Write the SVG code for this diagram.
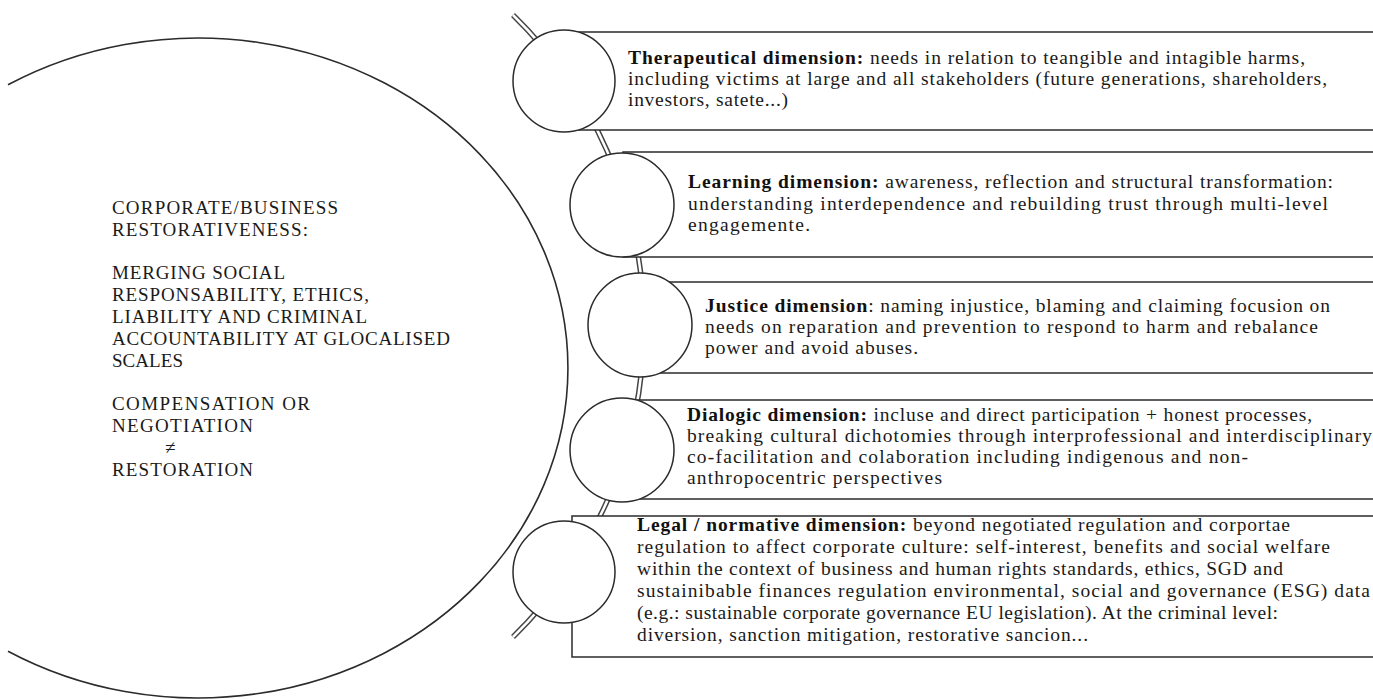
<svg xmlns="http://www.w3.org/2000/svg" width="1373" height="699" viewBox="0 0 1373 699">
<style>
.t{font-family:"Liberation Serif","Times New Roman",serif;font-size:19.5px;fill:#1a1a1a}
.l{font-family:"Liberation Serif","Times New Roman",serif;font-size:19px;fill:#1a1a1a}
.b{font-weight:bold;fill:#111}
.box{fill:#fff;stroke:#2b2b2b;stroke-width:1.5}
.dot{fill:#fff;stroke:#2b2b2b;stroke-width:1.5}
.big{fill:none;stroke:#2b2b2b;stroke-width:1.6}
.spo{fill:none;stroke:#444;stroke-width:5.5}
.spi{fill:none;stroke:#fff;stroke-width:2.5}
</style>
<defs>
<path id="spine" d="M 513 15 A 435 435 0 0 1 513 637"/>
</defs>
<rect width="1373" height="699" fill="#fff"/>

<g id="core">
<path class="big" d="M 8 84.8 A 370 330 0 1 1 8 651.2"/>
<text class="l" x="112" y="214" textLength="226">CORPORATE/BUSINESS</text>
<text class="l" x="112" y="235.8" textLength="196">RESTORATIVENESS:</text>
<text class="l" x="112" y="279.4" textLength="173">MERGING SOCIAL</text>
<text class="l" x="112" y="301.2" textLength="257">RESPONSABILITY, ETHICS,</text>
<text class="l" x="112" y="323" textLength="255">LIABILITY AND CRIMINAL</text>
<text class="l" x="112" y="344.8" textLength="338">ACCOUNTABILITY AT GLOCALISED</text>
<text class="l" x="112" y="366.6" textLength="71">SCALES</text>
<text class="l" x="112" y="410.2" textLength="198">COMPENSATION OR</text>
<text class="l" x="112" y="432" textLength="141">NEGOTIATION</text>
<text class="l" x="165" y="453.8">≠</text>
<text class="l" x="112" y="475.6" textLength="141">RESTORATION</text>
</g>

<g id="connectors">
<use href="#spine" class="spo"/>
<use href="#spine" class="spi"/>
</g>

<g id="dim-therapeutical">
<rect class="box" x="575" y="32" width="820" height="98"/>
<circle class="dot" cx="564" cy="81" r="51"/>
<text class="t" x="628" y="64" textLength="677"><tspan class="b">Therapeutical dimension:</tspan> needs in relation to teangible and intagible harms,</text>
<text class="t" x="628" y="85" textLength="699">including victims at large and all stakeholders (future generations, shareholders,</text>
<text class="t" x="628" y="106" textLength="160">investors, satete...)</text>
</g>

<g id="dim-learning">
<rect class="box" x="623" y="152" width="770" height="105"/>
<circle class="dot" cx="622" cy="205" r="52"/>
<text class="t" x="688" y="188" textLength="645"><tspan class="b">Learning dimension:</tspan> awareness, reflection and structural transformation:</text>
<text class="t" x="688" y="209.5" textLength="640">understanding interdependence and rebuilding trust through multi-level</text>
<text class="t" x="688" y="231" textLength="122">engagemente.</text>
</g>

<g id="dim-justice">
<rect class="box" x="640" y="282" width="750" height="91"/>
<circle class="dot" cx="640" cy="325" r="52"/>
<text class="t" x="705" y="312" textLength="625"><tspan class="b">Justice dimension</tspan>: naming injustice, blaming and claiming focusion on</text>
<text class="t" x="705" y="333" textLength="613">needs on reparation and prevention to respond to harm and rebalance</text>
<text class="t" x="705" y="354" textLength="213">power and avoid abuses.</text>
</g>

<g id="dim-dialogic">
<rect class="box" x="625" y="400" width="770" height="99"/>
<circle class="dot" cx="622" cy="450" r="52"/>
<text class="t" x="687" y="421" textLength="625"><tspan class="b">Dialogic dimension:</tspan> incluse and direct participation + honest processes,</text>
<text class="t" x="687" y="442" textLength="685">breaking cultural dichotomies through interprofessional and interdisciplinary</text>
<text class="t" x="687" y="463" textLength="561">co-facilitation and colaboration including indigenous and non-</text>
<text class="t" x="687" y="484" textLength="255">anthropocentric perspectives</text>
</g>

<g id="dim-legal">
<rect class="box" x="572" y="516" width="820" height="141"/>
<circle class="dot" cx="564" cy="572" r="51"/>
<text class="t" x="637" y="531" textLength="653"><tspan class="b">Legal / normative dimension:</tspan> beyond negotiated regulation and corportae</text>
<text class="t" x="637" y="553" textLength="693">regulation to affect corporate culture: self-interest, benefits and social welfare</text>
<text class="t" x="637" y="575" textLength="646">within the context of business and human rights standards, ethics, SGD and</text>
<text class="t" x="637" y="597" textLength="733">sustainibable finances regulation environmental, social and governance (ESG) data</text>
<text class="t" x="637" y="619" textLength="641">(e.g.: sustainable corporate governance EU legislation). At the criminal level:</text>
<text class="t" x="637" y="641" textLength="451">diversion, sanction mitigation, restorative sancion...</text>
</g>
</svg>
